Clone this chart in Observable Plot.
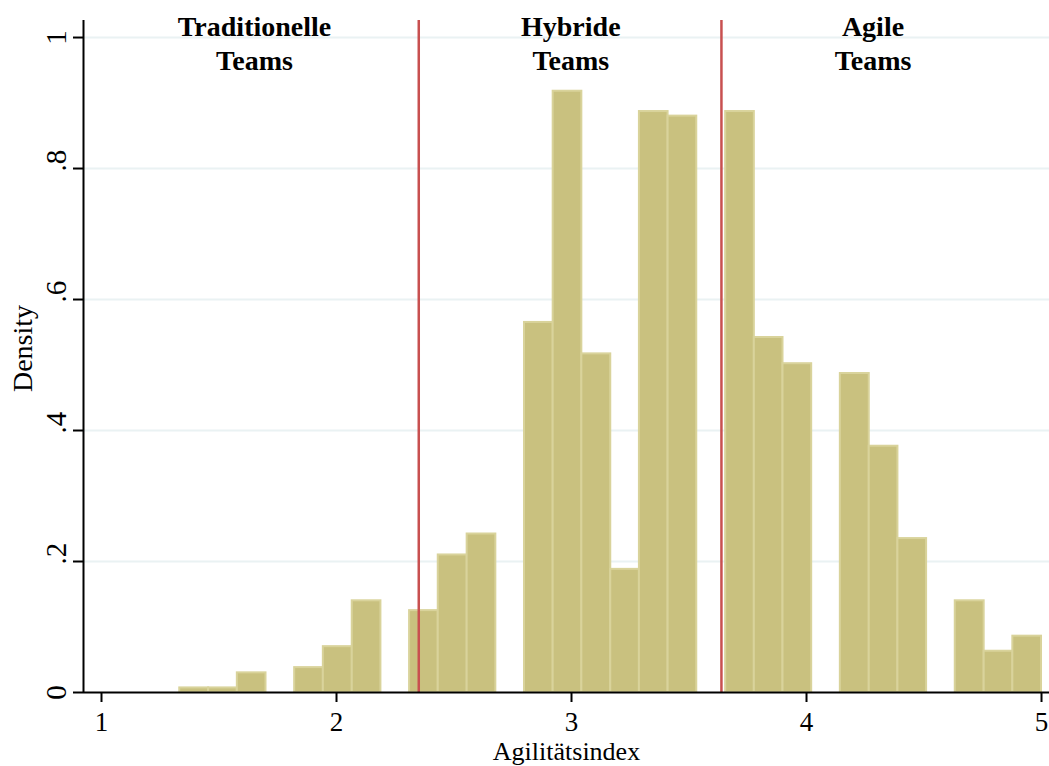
<!DOCTYPE html>
<html>
<head>
<meta charset="utf-8">
<script src="https://cdn.jsdelivr.net/npm/d3@7"></script>
<script src="https://cdn.jsdelivr.net/npm/@observablehq/plot@0.6"></script>
<style>
  html, body { margin: 0; padding: 0; background: #ffffff; }
  #chart svg { display: block; }
</style>
</head>
<body>
<div id="chart"></div>
<script>
// ---- data ----
const binEdges = [1.333, 1.456, 1.578, 1.700, 1.822, 1.944, 2.067, 2.189, 2.311, 2.433,
                  2.556, 2.678, 2.800, 2.922, 3.044, 3.167, 3.289, 3.411, 3.533, 3.656,
                  3.778, 3.900, 4.022, 4.144, 4.267, 4.389, 4.511, 4.633, 4.756, 4.878, 5.000];
const densities = [0.007, 0.007, 0.030, 0, 0.038, 0.070, 0.140, 0, 0.125, 0.210,
                   0.242, 0, 0.565, 0.918, 0.517, 0.188, 0.887, 0.880, 0, 0.887,
                   0.542, 0.502, 0, 0.487, 0.376, 0.235, 0, 0.140, 0.063, 0.086];
const cutoffs = [2.35, 3.638];
const regionX = [1.651, 2.997, 4.283];
const regionLine1 = ["Traditionelle", "Hybride", "Agile"];
const regionLine2 = ["Teams", "Teams", "Teams"];
const xTicks = [1, 2, 3, 4, 5];
const yTicks = [0, 0.2, 0.4, 0.6, 0.8, 1];
const yTickLabels = ["0", ".2", ".4", ".6", ".8", "1"];
const xTitle = "Agilitätsindex";
const yTitle = "Density";

// ---- tables built from the arrays ----
const bins = densities
  .map((d, i) => ({x0: binEdges[i], x1: binEdges[i + 1], density: d}))
  .filter(d => d.density > 0);
const regions = regionX.map((x, i) => ({x, l1: regionLine1[i], l2: regionLine2[i]}));
const yLabels = yTicks.map((v, i) => ({v, label: yTickLabels[i]}));

const xDomain = [0.9234, 5.034];
const yDomain = [0, 1.026];

const serif = "'Liberation Serif', 'DejaVu Serif', serif";

const chart = Plot.plot({
  width: 1049,
  height: 766,
  marginLeft: 83,
  marginRight: 0,
  marginTop: 20,
  marginBottom: 74,
  style: {fontFamily: serif, fontSize: "28px", color: "#000", background: "#fff"},
  x: {domain: xDomain},
  y: {domain: yDomain},
  marks: [
    // gridlines
    Plot.ruleY(yTicks.filter(v => v > 0), {x1: xDomain[0], x2: xDomain[1], stroke: "#eaf2f3", strokeWidth: 2}),
    // histogram bars
    Plot.rectY(bins, {x1: "x0", x2: "x1", y: "density", fill: "#c9c17f", stroke: "#d9d39b", strokeWidth: 2}),
    // cut-off lines
    Plot.ruleX(cutoffs, {y1: yDomain[0], y2: yDomain[1], stroke: "#c85050", strokeWidth: 2.5}),
    // axis lines
    Plot.ruleY([0], {x1: xDomain[0], x2: xDomain[1], stroke: "#000", strokeWidth: 2}),
    Plot.ruleX([xDomain[0]], {y1: yDomain[0], y2: yDomain[1], stroke: "#000", strokeWidth: 2}),
    // x axis ticks + labels
    Plot.axisX({ticks: xTicks, tickSize: 10, tickPadding: 9, tickFormat: d => String(d), label: null,
                stroke: "#000", strokeWidth: 2, fontSize: 27}),
    // y axis ticks (labels drawn rotated below)
    Plot.axisY({ticks: yTicks, tickSize: 10, tickFormat: () => "", label: null, stroke: "#000", strokeWidth: 2}),
    Plot.text(yLabels.filter(d => d.label.length === 1), {
      x: xDomain[0], y: "v", text: "label", rotate: -90, dx: -27, dy: 0,
      textAnchor: "middle", lineAnchor: "middle", fontSize: 29, fill: "#000"
    }),
    Plot.text(yLabels.filter(d => d.label.length > 1), {
      x: xDomain[0], y: "v", text: "label", rotate: -90, dx: -27, dy: -8,
      textAnchor: "middle", lineAnchor: "middle", fontSize: 29, fill: "#000"
    }),
    // axis titles
    Plot.text([xTitle], {frameAnchor: "bottom", text: d => d, dy: 59, lineAnchor: "middle", fontSize: 26, fill: "#000"}),
    Plot.text([yTitle], {frameAnchor: "left", text: d => d, dx: -60, dy: -8, rotate: -90,
                         textAnchor: "middle", lineAnchor: "middle", fontSize: 28, fill: "#000"}),
    // region titles
    Plot.text(regions, {x: "x", text: "l1", frameAnchor: "top", lineAnchor: "top", dy: -4,
                        fontSize: 28, fontWeight: "bold", fill: "#000"}),
    Plot.text(regions, {x: "x", text: "l2", frameAnchor: "top", lineAnchor: "top", dy: 30,
                        fontSize: 28, fontWeight: "bold", fill: "#000"})
  ]
});

document.getElementById("chart").appendChild(chart);
</script>
</body>
</html>
